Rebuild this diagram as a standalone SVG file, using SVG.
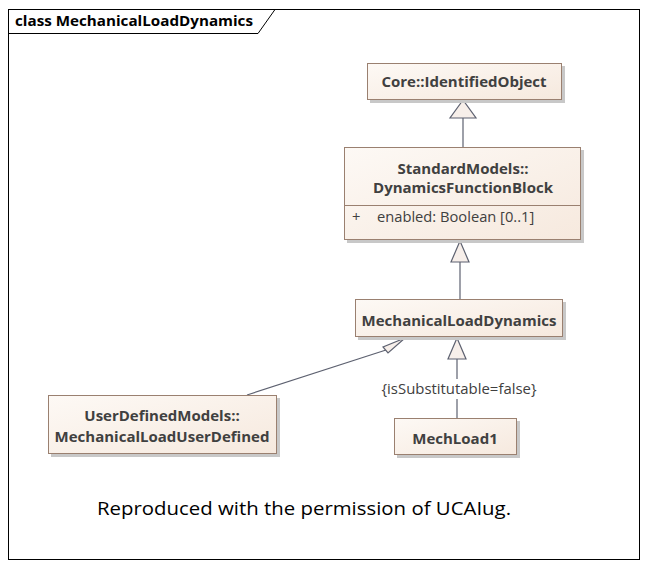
<svg xmlns="http://www.w3.org/2000/svg" width="648" height="569" viewBox="0 0 648 569">
<style>
.box{fill:url(#g);stroke:#9a8070;stroke-width:1}
.sh{fill:#c8c8c8}
.t{font-family:"Open Sans","Noto Sans",sans-serif;font-size:15px;font-weight:bold;fill:#404040;text-anchor:middle}
.a{font-family:"Open Sans","Noto Sans",sans-serif;font-size:14.7px;fill:#404040}
.ln{stroke:#5d6170;stroke-width:1.2;fill:none}
.tri{fill:#f7efea;stroke:#5d6170;stroke-width:1.2}
</style>
<defs>
<linearGradient id="g" x1="0" y1="0" x2="1" y2="1">
<stop offset="0" stop-color="#fdf9f5"/>
<stop offset="1" stop-color="#f6e9de"/>
</linearGradient>
</defs>
<rect x="0" y="0" width="648" height="569" fill="#ffffff"/>
<g id="frame">
<rect x="8.5" y="9.5" width="631" height="550" fill="none" stroke="#000" stroke-width="1"/>
<path d="M8.5 33.5 H258 L275 9.5" fill="none" stroke="#000" stroke-width="1"/>
<text x="15" y="26" font-family="'Open Sans','Noto Sans',sans-serif" font-size="15" font-weight="bold" fill="#000" textLength="238" lengthAdjust="spacingAndGlyphs">class MechanicalLoadDynamics</text>
</g>
<g id="connectors">
<line class="ln" x1="463" y1="118" x2="463" y2="147"/>
<polygon class="tri" points="463,100 450,118 476,118"/>
<line class="ln" x1="460" y1="262" x2="460" y2="299"/>
<polygon class="tri" points="460,241 451,262 469,262"/>
<line class="ln" x1="386" y1="350" x2="247" y2="395"/>
<polygon class="tri" points="405,338 383,347 388,353"/>
<line class="ln" x1="457" y1="359" x2="457" y2="379"/>
<line class="ln" x1="457" y1="399" x2="457" y2="418"/>
<polygon class="tri" points="457,338 448,359 466,359"/>
<text class="a" x="459" y="394" text-anchor="middle" textLength="155" lengthAdjust="spacingAndGlyphs">{isSubstitutable=false}</text>
</g>
<g id="IdentifiedObject">
<rect class="sh" x="370" y="66" width="195" height="37"/>
<rect class="box" x="367.5" y="63.5" width="194" height="36"/>
<text class="t" x="464" y="87">Core::IdentifiedObject</text>
</g>
<g id="DynamicsFunctionBlock">
<rect class="sh" x="347" y="150" width="237" height="93"/>
<rect class="box" x="344.5" y="147.5" width="236" height="92"/>
<line x1="344.5" y1="205.5" x2="580.5" y2="205.5" stroke="#9a8070"/>
<text class="t" x="463" y="174">StandardModels::</text>
<text class="t" x="463" y="193">DynamicsFunctionBlock</text>
<text class="a" x="352" y="222">+</text>
<text class="a" x="377" y="222">enabled: Boolean [0..1]</text>
</g>
<g id="MechanicalLoadDynamics">
<rect class="sh" x="358" y="302" width="208" height="38"/>
<rect class="box" x="355.5" y="299.5" width="207" height="37"/>
<text class="t" x="459" y="326">MechanicalLoadDynamics</text>
</g>
<g id="MechanicalLoadUserDefined">
<rect class="sh" x="51" y="398" width="229" height="59"/>
<rect class="box" x="48.5" y="395.5" width="228" height="58"/>
<text class="t" x="162" y="421">UserDefinedModels::</text>
<text class="t" x="162" y="442">MechanicalLoadUserDefined</text>
</g>
<g id="MechLoad1">
<rect class="sh" x="397" y="421" width="123" height="37"/>
<rect class="box" x="394.5" y="418.5" width="122" height="36"/>
<text class="t" x="455" y="444">MechLoad1</text>
</g>
<text x="97" y="515" font-family="'Open Sans','Noto Sans',sans-serif" font-size="19" fill="#000" textLength="414" lengthAdjust="spacingAndGlyphs">Reproduced with the permission of UCAIug.</text>
</svg>
